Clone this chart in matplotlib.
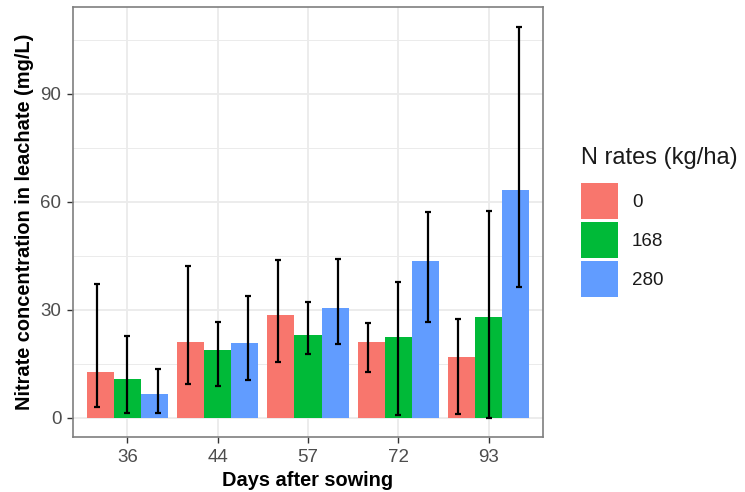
import matplotlib
matplotlib.use("Agg")
import matplotlib.pyplot as plt
import numpy as np
from matplotlib.patches import Patch

plt.rcParams['font.family'] = ['Liberation Sans', 'DejaVu Sans']

days = ["36", "44", "57", "72", "93"]
rates = ["0", "168", "280"]
colors = ["#F8766D", "#00BA38", "#619CFF"]

means = {
    "0":   [12.8, 21.1, 28.5, 21.1, 16.8],
    "168": [10.8, 18.7, 23.0, 22.3, 28.0],
    "280": [6.5, 20.8, 30.4, 43.4, 63.3],
}
err_low = {
    "0":   [2.9, 9.4, 15.6, 12.6, 0.9],
    "168": [1.3, 8.8, 17.7, 0.7, 0.0],
    "280": [1.3, 10.5, 20.5, 26.6, 36.2],
}
err_high = {
    "0":   [37.1, 42.0, 43.9, 26.3, 27.4],
    "168": [22.6, 26.5, 32.0, 37.7, 57.3],
    "280": [13.5, 33.7, 44.1, 57.1, 108.6],
}

W, H = 745, 492
fig = plt.figure(figsize=(W/100, H/100), dpi=100)
ax_l, ax_r, ax_t, ax_b = 73.3, 542.7, 7.0, 437.3
ax = fig.add_axes([ax_l/W, 1-ax_b/H, (ax_r-ax_l)/W, (ax_b-ax_t)/H])

x = np.arange(len(days))
bw = 0.3
for i, r in enumerate(rates):
    off = (i - 1) * bw
    ax.bar(x + off, means[r], width=bw, color=colors[i], zorder=2, linewidth=0)
for i, r in enumerate(rates):
    off = (i - 1) / 3.0
    m = np.array(means[r])
    lo = np.array(err_low[r])
    hi = np.array(err_high[r])
    ax.errorbar(x + off, m, yerr=[m - lo, hi - m], fmt='none', ecolor='black',
                elinewidth=1.6, capsize=2.3, capthick=1.6, zorder=3)

ymax = 108.6
ax.set_ylim(-0.05*ymax, ymax*1.05)
ax.set_xlim(-0.6, 4.6)
ax.set_xticks(x)
ax.set_xticklabels(days)
ax.set_yticks([0, 30, 60, 90])
ax.set_yticks([15, 45, 75, 105], minor=True)
ax.tick_params(axis='both', which='major', labelsize=13.5, colors='#333333',
               labelcolor='#4D4D4D', length=4.6, width=1.0, pad=4)
ax.tick_params(axis='y', which='minor', length=0)
ax.grid(True, which='major', color='#EBEBEB', linewidth=1.3, zorder=0)
ax.grid(True, which='minor', axis='y', color='#EBEBEB', linewidth=0.7, zorder=0)
ax.set_axisbelow(True)
for s in ax.spines.values():
    s.set_color('#7F7F7F')
    s.set_linewidth(1.2)

ax.set_xlabel("Days after sowing", fontsize=14.4, fontweight='bold')
ax.set_ylabel("Nitrate concentration in leachate (mg/L)", fontsize=14.4,
              fontweight='bold')
ax.xaxis.set_label_coords(0.5, (ax_b - 471.5) / (ax_b - ax_t))
ax.yaxis.set_label_coords((33.7 - ax_l) / (ax_r - ax_l), 0.5)

fig.text(581/W, 1-158/H, "N rates (kg/ha)", fontsize=17, va='center', ha='left',
         color='#1A1A1A')

handles = [Patch(facecolor=c, edgecolor='none') for c in colors]
leg = fig.legend(handles, rates, loc='upper left',
                 bbox_to_anchor=(581/W, 1-183.3/H), frameon=False,
                 fontsize=13.5, handlelength=1.96,
                 handleheight=2.58, labelspacing=0.155, handletextpad=0.75,
                 borderaxespad=0, borderpad=0)
for t in leg.get_texts():
    t.set_color('#1A1A1A')

fig.savefig("out.png", dpi=100)
